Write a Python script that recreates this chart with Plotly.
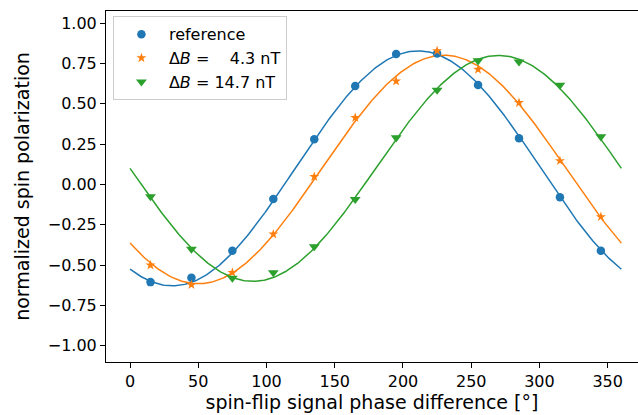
import numpy as np
import plotly.graph_objects as go

# measured phases (degrees)
phase = [15, 45, 75, 105, 135, 165, 195, 225, 255, 285, 315, 345]

# normalized spin polarization
pol_ref = [-0.605, -0.578, -0.41, -0.09, 0.28, 0.61, 0.808, 0.812, 0.616, 0.286, -0.079, -0.41]
pol_43 = [-0.50, -0.622, -0.546, -0.308, 0.048, 0.414, 0.64, 0.828, 0.713, 0.507, 0.147, -0.20]
pol_147 = [-0.075, -0.40, -0.58, -0.546, -0.385, -0.092, 0.29, 0.585, 0.767, 0.76, 0.616, 0.296]
err = [0.012] * 12

# fitted sinusoid parameters: offset, amplitude, phase of maximum (deg)
fit_offset = [0.10, 0.093, 0.10]
fit_amp = [0.728, 0.708, 0.70]
fit_phase = [211, 230, 270]

names = ["reference", "Δ<i>B</i> =\u2007\u20074.3 nT", "Δ<i>B</i> = 14.7 nT"]
colors = ["#1f77b4", "#ff7f0e", "#2ca02c"]
symbols = ["circle", "star", "triangle-down"]
sizes = [8.5, 7.5, 9.5]
series = [pol_ref, pol_43, pol_147]

fig = go.Figure()
xf = np.linspace(0, 360, 361)
for i in range(3):
    yf = fit_offset[i] + fit_amp[i] * np.cos(np.radians(xf - fit_phase[i]))
    fig.add_trace(go.Scatter(x=xf, y=yf, mode="lines", line=dict(color=colors[i], width=1.5),
                             showlegend=False, hoverinfo="skip"))
for i in range(3):
    fig.add_trace(go.Scatter(x=phase, y=series[i], mode="markers", name=names[i],
                             marker=dict(color=colors[i], symbol=symbols[i], size=sizes[i], line=dict(width=0)),
                             error_y=dict(type="data", array=err, color=colors[i], thickness=1.5, width=0)))

fs = 16
font = dict(family="DejaVu Sans", size=fs, color="black")
fig.update_layout(
    width=638, height=415,
    margin=dict(l=106, r=0, t=11, b=53),
    plot_bgcolor="white", paper_bgcolor="white",
    font=font,
    showlegend=True,
    legend=dict(x=0.013, y=0.985, xanchor="left", yanchor="top", bgcolor="rgba(255,255,255,0.8)",
                bordercolor="#cccccc", borderwidth=1, font=dict(family="DejaVu Sans", size=fs),
                tracegroupgap=0, itemwidth=45),
    xaxis=dict(range=[-17.6, 372.2], tickvals=[0, 50, 100, 150, 200, 250, 300, 350],
               showline=True, linecolor="black", linewidth=1, mirror=True,
               ticks="outside", ticklen=5, tickwidth=1, tickcolor="black",
               showgrid=False, zeroline=False,
               title=dict(text="spin-flip signal phase difference [°]", standoff=5)),
    yaxis=dict(range=[-1.1, 1.075], tickvals=[-1.0, -0.75, -0.5, -0.25, 0, 0.25, 0.5, 0.75, 1.0],
               tickformat=".2f",
               showline=True, linecolor="black", linewidth=1, mirror=False,
               ticks="outside", ticklen=5, tickwidth=1, tickcolor="black",
               showgrid=False, zeroline=False,
               title=dict(text="normalized spin polarization", standoff=13)),
)
fig.write_html("out.html")
